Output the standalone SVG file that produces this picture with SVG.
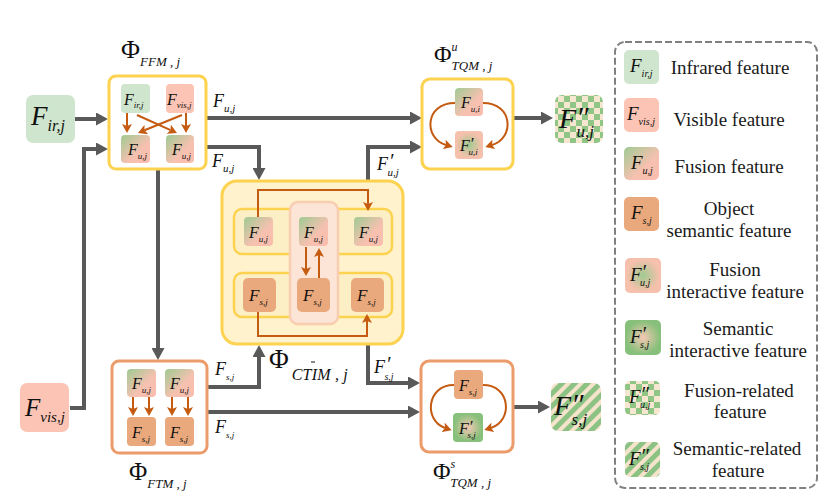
<svg xmlns="http://www.w3.org/2000/svg" width="831" height="502" viewBox="0 0 831 502">
<style>
.m{font-family:"Liberation Serif","Times New Roman",serif;font-style:italic;fill:#111;}
.phi{font-family:"Liberation Serif","Times New Roman",serif;fill:#111;}
.lg{font-family:"Liberation Serif","Times New Roman",serif;font-size:19px;fill:#1a1a1a;text-anchor:middle;}
.gl{fill:none;stroke:#595959;stroke-width:4;marker-end:url(#ga);}
.ol{fill:none;stroke:#c55a11;stroke-width:2;marker-end:url(#oa);}
.ir{fill:#cfe5cd;}
.vis{fill:#fcc4b4;}
.fu{fill:url(#gfu);}
.fs{fill:#eaa97d;}
.fpu{fill:url(#gpu);}
.fps{fill:url(#gps);}
.gold{fill:#fff;stroke:#fcd24f;stroke-width:3;}
.org{fill:#fff;stroke:#ec9b6b;stroke-width:3;}
</style>
<defs>
<marker id="ga" viewBox="0 0 12 13" refX="1" refY="6.5" markerWidth="12" markerHeight="13" markerUnits="userSpaceOnUse" orient="auto"><path d="M0,0 L12,6.5 L0,13 z" fill="#595959"/></marker>
<marker id="oa" viewBox="0 0 9 10" refX="2" refY="5" markerWidth="9" markerHeight="10" markerUnits="userSpaceOnUse" orient="auto"><path d="M0,0 L9,5 L0,10 L2,5 z" fill="#c55a11"/></marker>
<linearGradient id="gfu" x1="0" y1="0" x2="1" y2="1"><stop offset="0" stop-color="#9fca92"/><stop offset="0.6" stop-color="#f6c1b0"/><stop offset="1" stop-color="#fbbcad"/></linearGradient>
<radialGradient id="gpu" cx="0.5" cy="0.5" r="0.6"><stop offset="0" stop-color="#9fcb91"/><stop offset="0.75" stop-color="#f5c0ac"/></radialGradient>
<radialGradient id="gps" cx="0.5" cy="0.5" r="0.6"><stop offset="0" stop-color="#f5c8b4"/><stop offset="0.8" stop-color="#86c07a"/></radialGradient>
<pattern id="chk" width="12" height="12" patternUnits="userSpaceOnUse"><rect width="12" height="12" fill="#f7e6d0"/><rect width="6" height="6" fill="#8fc686"/><rect x="6" y="6" width="6" height="6" fill="#8fc686"/></pattern>
<pattern id="str" width="9" height="9" patternUnits="userSpaceOnUse" patternTransform="rotate(45)"><rect width="9" height="9" fill="#f5e3cb"/><rect width="5" height="9" fill="#8cc283"/></pattern>
</defs>

<g id="connectors">
<path class="gl" d="M75,119 H97"/>
<path class="gl" d="M70,408 H84 V149 H97"/>
<path class="gl" d="M207,118 H411"/>
<path class="gl" d="M207,147 H259 V169"/>
<path class="gl" d="M368,180 V147 H411"/>
<path class="gl" d="M158,170 V349"/>
<path class="gl" d="M207,387 H259 V356"/>
<path class="gl" d="M207,412 H409"/>
<path class="gl" d="M368,344 V383 H409"/>
<path class="gl" d="M514,118 H542"/>
<path class="gl" d="M514,407 H539"/>
<text class="m" x="213" y="107" font-size="18">F<tspan font-size="11" dy="5">u,j</tspan></text>
<text class="m" x="212" y="167" font-size="18">F<tspan font-size="11" dy="5">u,j</tspan></text>
<text class="m" x="377" y="170" font-size="18">F<tspan font-size="20" dx="1" dy="-2">′</tspan><tspan font-size="11" dx="-6" dy="8">u,j</tspan></text>
<text class="m" x="215" y="375" font-size="18">F<tspan font-size="9" dy="5">s,j</tspan></text>
<text class="m" x="215" y="433" font-size="18">F<tspan font-size="9" dy="5">s,j</tspan></text>
<text class="m" x="374" y="373" font-size="18">F<tspan font-size="20" dx="1" dy="-2">′</tspan><tspan font-size="10" dx="-6" dy="9">s,j</tspan></text>
</g>

<g id="in-ir">
<rect class="ir" x="26" y="95" width="49" height="48" rx="7"/>
<text class="m" x="31" y="125" font-size="27">F<tspan font-size="16" dy="6">ir,j</tspan></text>
</g>

<g id="in-vis">
<rect class="vis" x="20" y="383" width="49" height="49" rx="7"/>
<text class="m" x="25" y="416" font-size="25">F<tspan font-size="15" dy="6">vis,j</tspan></text>
</g>

<g id="ffm">
<rect class="gold" x="109" y="76" width="97" height="93" rx="7"/>
<text class="phi" x="121" y="58" font-size="26">Φ<tspan class="m" font-size="13" dy="8">FFM , j</tspan></text>
<rect class="ir" x="121" y="84" width="29" height="29" rx="4"/>
<text class="m" x="124" y="105" font-size="16">F<tspan font-size="9" dy="3">ir,j</tspan></text>
<rect class="vis" x="166" y="84" width="28" height="29" rx="4"/>
<text class="m" x="167" y="105" font-size="16">F<tspan font-size="9" dy="3">vis,j</tspan></text>
<rect class="fu" x="121" y="135" width="29" height="28" rx="4"/>
<text class="m" x="128" y="155" font-size="16">F<tspan font-size="9" dy="4">u,j</tspan></text>
<rect class="fu" x="166" y="135" width="28" height="28" rx="4"/>
<text class="m" x="172" y="155" font-size="16">F<tspan font-size="9" dy="4">u,j</tspan></text>
<path class="ol" d="M127,113 V126"/>
<path class="ol" d="M186,113 V126"/>
<path class="ol" d="M137,115 L170.6,130.1"/>
<path class="ol" d="M182,115 L144.5,130.3"/>
</g>

<g id="ftm">
<rect class="org" x="112" y="361" width="95" height="92" rx="7"/>
<text class="phi" x="129" y="480" font-size="25">Φ<tspan class="m" font-size="13" dy="8">FTM , j</tspan></text>
<rect class="fu" x="127" y="369" width="29" height="28" rx="4"/>
<text class="m" x="132" y="389" font-size="16">F<tspan font-size="9" dy="4">u,j</tspan></text>
<rect class="fu" x="165" y="369" width="29" height="28" rx="4"/>
<text class="m" x="170" y="389" font-size="16">F<tspan font-size="9" dy="4">u,j</tspan></text>
<rect class="fs" x="127" y="417" width="29" height="29" rx="4"/>
<text class="m" x="132" y="438" font-size="16">F<tspan font-size="9" dy="4">s,j</tspan></text>
<rect class="fs" x="165" y="417" width="29" height="29" rx="4"/>
<text class="m" x="170" y="438" font-size="16">F<tspan font-size="9" dy="4">s,j</tspan></text>
<path class="ol" d="M133,397 V409"/>
<path class="ol" d="M149,397 V409"/>
<path class="ol" d="M172,397 V409"/>
<path class="ol" d="M188,397 V409"/>
</g>

<g id="ctim">
<rect x="222" y="181" width="181" height="163" rx="15" fill="#fff2cc" stroke="#fcd24f" stroke-width="3"/>
<rect x="234" y="209" width="158" height="45" rx="8" fill="#fdefc5" stroke="#fcd24f" stroke-width="2.5"/>
<rect x="234" y="273" width="158" height="44" rx="8" fill="#fdefc5" stroke="#fcd24f" stroke-width="2.5"/>
<rect x="290" y="202" width="48" height="122" rx="8" fill="#fce5d7" stroke="#f8cdb0" stroke-width="2.5"/>
<rect class="fu" x="244" y="217" width="29" height="29" rx="4"/>
<text class="m" x="249" y="238" font-size="16">F<tspan font-size="9" dy="4">u,j</tspan></text>
<rect class="fu" x="299" y="217" width="29" height="29" rx="4"/>
<text class="m" x="304" y="238" font-size="16">F<tspan font-size="9" dy="4">u,j</tspan></text>
<rect class="fu" x="354" y="217" width="29" height="29" rx="4"/>
<text class="m" x="359" y="238" font-size="16">F<tspan font-size="9" dy="4">u,j</tspan></text>
<rect class="fs" x="243" y="278" width="33" height="34" rx="5"/>
<text class="m" x="249" y="301" font-size="17">F<tspan font-size="9" dy="4">s,j</tspan></text>
<rect class="fs" x="297" y="278" width="33" height="34" rx="5"/>
<text class="m" x="303" y="301" font-size="17">F<tspan font-size="9" dy="4">s,j</tspan></text>
<rect class="fs" x="351" y="278" width="33" height="34" rx="5"/>
<text class="m" x="357" y="301" font-size="17">F<tspan font-size="9" dy="4">s,j</tspan></text>
<path class="ol" d="M258,217 V190 H368 V204"/>
<path class="ol" d="M258,312 V336 H367 V321"/>
<path class="ol" d="M306,247 V269"/>
<path class="ol" d="M319,278 V255"/>
<text class="phi" x="269" y="368" font-size="27">Φ<tspan class="m" font-size="16" dx="3" dy="12" textLength="56">CTIM , j</tspan></text>
<line x1="311" y1="362" x2="315" y2="362" stroke="#111" stroke-width="1"/>
</g>

<g id="tqm-u">
<rect class="gold" x="422" y="79" width="91" height="90" rx="8"/>
<text class="phi" x="434" y="62" font-size="24">Φ<tspan class="m" font-size="12" dy="-11">u</tspan><tspan class="m" font-size="13" dx="-6" dy="19">TQM , j</tspan></text>
<rect class="fu" x="455" y="88" width="28" height="28" rx="4"/>
<text class="m" x="461" y="108" font-size="16">F<tspan font-size="9" dy="4">u,i</tspan></text>
<rect class="fpu" x="455" y="131" width="28" height="28" rx="4"/>
<text class="m" x="460" y="151" font-size="16">F<tspan font-size="17" dy="-2">′</tspan><tspan font-size="9" dx="-5" dy="6">u,i</tspan></text>
<path class="ol" d="M455,103 C425,103 423,138 446,145"/>
<path class="ol" d="M483,103 C513,103 515,138 492,145"/>
</g>

<g id="tqm-s">
<rect class="org" x="421" y="361" width="92" height="91" rx="8"/>
<text class="phi" x="433" y="479" font-size="24">Φ<tspan class="m" font-size="12" dy="-11">s</tspan><tspan class="m" font-size="13" dx="-5" dy="19">TQM , j</tspan></text>
<rect class="fs" x="454" y="370" width="29" height="29" rx="4"/>
<text class="m" x="459" y="391" font-size="16">F<tspan font-size="9" dy="4">s,j</tspan></text>
<rect class="fps" x="453" y="413" width="30" height="29" rx="4"/>
<text class="m" x="459" y="434" font-size="16">F<tspan font-size="17" dy="-2">′</tspan><tspan font-size="9" dx="-5" dy="6">s,j</tspan></text>
<path class="ol" d="M454,385 C426,385 424,421 445,428"/>
<path class="ol" d="M483,385 C511,385 513,421 491,428"/>
</g>

<g id="out-u">
<rect x="555" y="95" width="48" height="48" rx="7" fill="url(#chk)"/>
<text class="m" x="559" y="128" font-size="28">F<tspan font-size="30" dy="-1">″</tspan><tspan font-size="17" dx="-12" dy="10">u,j</tspan></text>
</g>

<g id="out-s">
<rect x="551" y="383" width="50" height="48" rx="7" fill="url(#str)"/>
<text class="m" x="554" y="415" font-size="28">F<tspan font-size="30" dy="-1">″</tspan><tspan font-size="17" dx="-12" dy="11">s,j</tspan></text>
</g>

<g id="legend">
<rect x="615" y="42" width="202" height="446" rx="10" fill="none" stroke="#808080" stroke-width="2" stroke-dasharray="7,3"/>
<rect class="ir" x="624" y="50" width="35" height="34" rx="5"/>
<text class="m" x="630" y="72" font-size="19">F<tspan font-size="10" dy="5">ir,j</tspan></text>
<text class="lg" x="730" y="74">Infrared feature</text>
<rect class="vis" x="624" y="98" width="35" height="34" rx="5"/>
<text class="m" x="627" y="120" font-size="19">F<tspan font-size="10" dy="5">vis,j</tspan></text>
<text class="lg" x="729" y="126">Visible feature</text>
<rect class="fu" x="624" y="147" width="35" height="33" rx="5"/>
<text class="m" x="631" y="169" font-size="19">F<tspan font-size="10" dy="5">u,j</tspan></text>
<text class="lg" x="729" y="173">Fusion feature</text>
<rect class="fs" x="624" y="197" width="35" height="34" rx="5"/>
<text class="m" x="631" y="219" font-size="19">F<tspan font-size="10" dy="5">s,j</tspan></text>
<text class="lg" x="729" y="215">Object</text>
<text class="lg" x="729" y="237">semantic feature</text>
<rect class="fpu" x="625" y="258" width="36" height="35" rx="5"/>
<text class="m" x="630" y="281" font-size="19">F<tspan font-size="20" dy="-2">′</tspan><tspan font-size="10" dx="-6" dy="7">u,j</tspan></text>
<text class="lg" x="735" y="276">Fusion</text>
<text class="lg" x="735" y="298">interactive feature</text>
<rect class="fps" x="625" y="320" width="36" height="35" rx="5"/>
<text class="m" x="630" y="343" font-size="19">F<tspan font-size="20" dy="-2">′</tspan><tspan font-size="10" dx="-6" dy="7">s,j</tspan></text>
<text class="lg" x="738" y="335">Semantic</text>
<text class="lg" x="738" y="357">interactive feature</text>
<rect x="625" y="381" width="35" height="34" rx="5" fill="url(#chk)"/>
<text class="m" x="629" y="403" font-size="19">F<tspan font-size="20" dy="-2">″</tspan><tspan font-size="10" dx="-9" dy="7">u,j</tspan></text>
<text class="lg" x="739" y="397">Fusion-related</text>
<text class="lg" x="740" y="418">feature</text>
<rect x="625" y="442" width="35" height="35" rx="5" fill="url(#str)"/>
<text class="m" x="629" y="465" font-size="19">F<tspan font-size="20" dy="-2">″</tspan><tspan font-size="10" dx="-9" dy="7">s,j</tspan></text>
<text class="lg" x="737" y="455">Semantic-related</text>
<text class="lg" x="738" y="477">feature</text>
</g>
</svg>
